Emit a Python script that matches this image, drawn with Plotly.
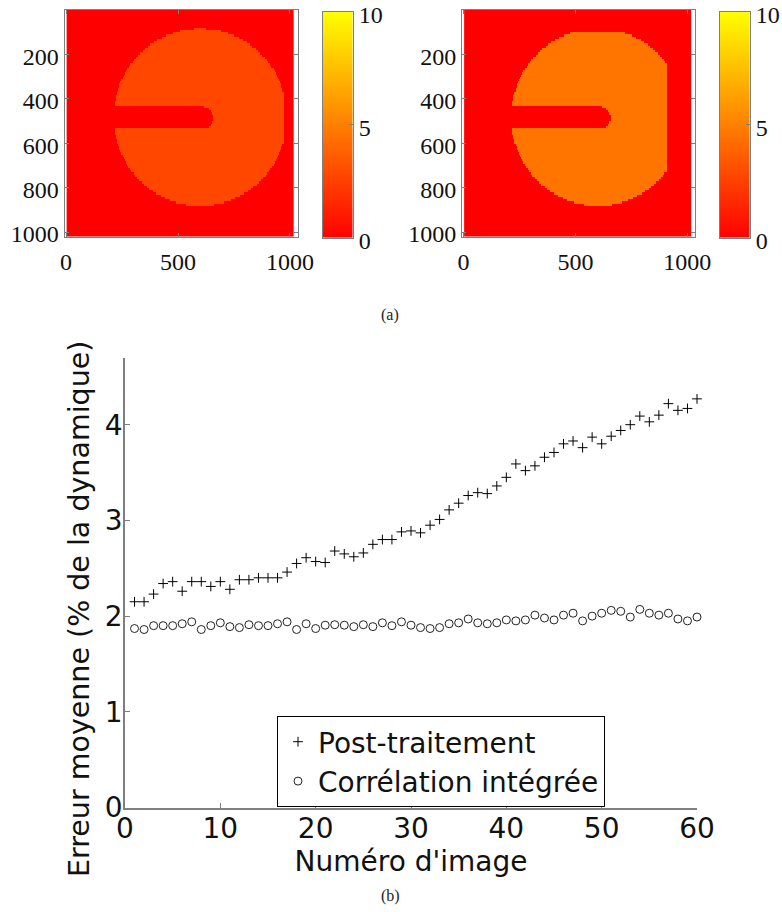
import plotly.graph_objects as go

# ---- lower chart: values ----
image_number = list(range(1, 61))
post_traitement = [2.15, 2.15, 2.23, 2.34, 2.36, 2.26, 2.36, 2.36, 2.31, 2.36,
                   2.28, 2.38, 2.38, 2.40, 2.40, 2.40, 2.46, 2.55, 2.61, 2.57,
                   2.56, 2.68, 2.65, 2.62, 2.66, 2.75, 2.80, 2.80, 2.88, 2.89,
                   2.87, 2.95, 3.01, 3.11, 3.18, 3.26, 3.29, 3.28, 3.36, 3.45,
                   3.59, 3.52, 3.57, 3.66, 3.71, 3.80, 3.83, 3.76, 3.87, 3.80,
                   3.88, 3.94, 4.00, 4.09, 4.03, 4.10, 4.22, 4.15, 4.17, 4.27]
correlation_integree = [1.87, 1.86, 1.90, 1.90, 1.90, 1.92, 1.94, 1.86, 1.90, 1.93,
                        1.89, 1.88, 1.91, 1.90, 1.90, 1.92, 1.94, 1.86, 1.92, 1.87,
                        1.905, 1.91, 1.905, 1.89, 1.91, 1.89, 1.93, 1.90, 1.94, 1.905,
                        1.88, 1.87, 1.88, 1.92, 1.93, 1.97, 1.93, 1.92, 1.93, 1.96,
                        1.95, 1.96, 2.01, 1.98, 1.96, 2.01, 2.03, 1.95, 2.00, 2.03,
                        2.06, 2.05, 1.99, 2.07, 2.03, 2.01, 2.03, 1.97, 1.95, 1.99]

# ---- upper maps: specimen outline ----
disc_center_x = 600
disc_rows = list(range(80, 880, 10))
disc_half_width = [27, 90, 124, 150, 171, 190, 206, 221, 234, 246, 258, 268, 278, 287, 296, 303,
                   311, 318, 325, 330, 336, 341, 346, 351, 356, 360, 364, 366, 369, 372, 375, 377,
                   379, 381, 383, 384, 385, 386, 387, 387, 387, 387, 386, 386, 385, 383, 382, 380,
                   378, 376, 373, 371, 368, 364, 361, 357, 353, 348, 343, 338, 332, 327, 321, 314,
                   306, 298, 291, 282, 272, 261, 251, 239, 226, 212, 196, 179, 158, 135, 105, 61]
slit_rows = [430, 440, 450, 460, 470, 480, 490, 500, 510, 520]
slit_tip = [617, 638, 648, 653, 656, 657, 656, 652, 646, 636]
left_right_limit, left_top_limit, left_level = 970, 0, 2.8
right_right_limit, right_top_limit, right_level = 909, 102, 4.6
scale_levels = [i / 4 for i in range(41)]
scale_ticks = [0, 5, 10]

map_x = list(range(5, 1020, 5))
map_y = list(range(5, 1020, 10))
W, H = 782, 912


def fx(x):
    return x / W


def fy(y):
    return 1 - y / H


def px(x0, x1):
    return [fx(x0), fx(x1)]


def py(top, bottom):
    return [fy(bottom), fy(top)]


def build_map(right_limit, top_limit, level):
    half = dict(zip(disc_rows, disc_half_width))
    tips = dict(zip(slit_rows, slit_tip))
    z = []
    for y in map_y:
        row_key = y - 5
        row = []
        for x in map_x:
            inside = (row_key in half
                      and abs(x - disc_center_x) <= half[row_key]
                      and x <= right_limit and y >= top_limit
                      and x >= tips.get(row_key, 0))
            row.append(level if inside else 0)
        z.append(row)
    return z


GRAY = "#7f7f7f"
SERIF = dict(family="Liberation Serif", size=24, color="#111111")
SANS = dict(family="DejaVu Sans", size=28, color="#111111")
AUTUMN = [[0, "#ff0000"], [1, "#ffff00"]]

fig = go.Figure()

fig.add_trace(go.Heatmap(x=map_x, y=map_y, z=build_map(left_right_limit, left_top_limit, left_level),
                         zmin=0, zmax=10, colorscale=AUTUMN, showscale=False,
                         xaxis="x", yaxis="y", hoverinfo="skip"))
fig.add_trace(go.Heatmap(x=map_x, y=map_y, z=build_map(right_right_limit, right_top_limit, right_level),
                         zmin=0, zmax=10, colorscale=AUTUMN, showscale=False,
                         xaxis="x2", yaxis="y2", hoverinfo="skip"))
for xa, ya in (("x4", "y4"), ("x5", "y5")):
    fig.add_trace(go.Heatmap(x=[0], y=scale_levels, z=[[v] for v in scale_levels],
                             zmin=0, zmax=10, colorscale=AUTUMN, showscale=False, zsmooth="best",
                             xaxis=xa, yaxis=ya, hoverinfo="skip"))
fig.add_trace(go.Scatter(x=image_number, y=post_traitement, mode="markers", name="Post-traitement",
                         xaxis="x3", yaxis="y3", cliponaxis=False,
                         marker=dict(symbol="cross-thin", size=7, color="black",
                                     line=dict(color="black", width=1))))
fig.add_trace(go.Scatter(x=image_number, y=correlation_integree, mode="markers", name="Corrélation intégrée",
                         xaxis="x3", yaxis="y3", cliponaxis=False,
                         marker=dict(symbol="circle-open", size=8, color="#222222",
                                     line=dict(color="#222222", width=1))))


def map_xaxis(domain, anchor):
    return dict(domain=domain, range=[-7, 1036], anchor=anchor, tickvals=[0, 500, 1000],
                ticks="inside", ticklen=4, tickcolor=GRAY, showline=True, linecolor=GRAY,
                mirror="ticks", showgrid=False, zeroline=False, tickfont=SERIF, automargin=False,
                ticklabeloverflow="allow", ticklabelstandoff=4)


def map_yaxis(domain, anchor):
    return dict(domain=domain, range=[1020, 0], anchor=anchor, tickvals=[200, 400, 600, 800, 1000],
                ticks="inside", ticklen=4, tickcolor=GRAY, showline=True, linecolor=GRAY,
                mirror="ticks", showgrid=False, zeroline=False, tickfont=SERIF, automargin=False,
                ticklabeloverflow="allow", ticklabelshift=-2)


def scale_xaxis(domain, anchor):
    return dict(domain=domain, anchor=anchor, range=[-0.5, 0.5], showticklabels=False, ticks="",
                showline=True, linecolor=GRAY, mirror=True, showgrid=False, zeroline=False, automargin=False)


def scale_yaxis(domain, anchor):
    return dict(domain=domain, anchor=anchor, range=[0, 10], side="right", tickvals=scale_ticks,
                ticks="inside", ticklen=4, tickcolor=GRAY, showline=True, linecolor=GRAY,
                mirror=True, showgrid=False, zeroline=False, tickfont=SERIF, automargin=False,
                ticklabeloverflow="allow", ticklabelshift=3)


fig.update_layout(
    template="none",
    width=W, height=H, autosize=False, margin=dict(l=0, r=0, t=0, b=0, pad=0),
    paper_bgcolor="white", plot_bgcolor="white", showlegend=True,
    xaxis=map_xaxis(px(64.5, 298), "y"),
    yaxis=map_yaxis(py(10, 236.5), "x"),
    xaxis2=map_xaxis(px(462, 695.3), "y2"),
    yaxis2=map_yaxis(py(10, 236.5), "x2"),
    xaxis4=scale_xaxis(px(322.5, 353), "y4"),
    yaxis4=scale_yaxis(py(11.5, 238), "x4"),
    xaxis5=scale_xaxis(px(719.5, 750), "y5"),
    yaxis5=scale_yaxis(py(11.5, 238), "x5"),
    xaxis3=dict(domain=px(125, 697), range=[0, 60], anchor="y3", tickvals=[0, 10, 20, 30, 40, 50, 60],
                ticks="inside", ticklen=5, tickcolor=GRAY, showline=True, linecolor=GRAY, linewidth=1.5,
                showgrid=False, zeroline=False, tickfont=SANS, automargin=False,
                ticklabeloverflow="allow", ticklabelstandoff=-5,
                title=dict(text="Numéro d'image", font=SANS, standoff=0)),
    yaxis3=dict(domain=py(358, 807.5), range=[0, 4.697], anchor="x3", tickvals=[0, 1, 2, 3, 4],
                ticks="inside", ticklen=5, tickcolor=GRAY, showline=True, linecolor=GRAY, linewidth=1.5,
                showgrid=False, zeroline=False, tickfont=SANS, automargin=False,
                ticklabeloverflow="allow", ticklabelstandoff=-5),
    legend=dict(x=fx(277), y=fy(716), xanchor="left", yanchor="top", bgcolor="white",
                bordercolor="black", borderwidth=1, font=SANS, itemwidth=30),
    annotations=[
        dict(text="Erreur moyenne (% de la dynamique)", x=fx(79), y=fy(609), xref="paper", yref="paper",
             showarrow=False, textangle=-90, xanchor="center", yanchor="middle",
             font=dict(family="DejaVu Sans", size=28.5, color="#111111")),
        dict(text="(a)", x=fx(390), y=fy(315), xref="paper", yref="paper", showarrow=False,
             xanchor="center", yanchor="middle",
             font=dict(family="Liberation Serif", size=16, color="#222222")),
        dict(text="(b)", x=fx(390), y=fy(896), xref="paper", yref="paper", showarrow=False,
             xanchor="center", yanchor="middle",
             font=dict(family="Liberation Serif", size=16, color="#222222")),
    ],
)

# remove the browser's default 8 px page margin so the figure fills the window; no toolbar
fig.write_html("out.html", config={"displayModeBar": False},
               post_script="document.body.style.margin='0';document.body.style.overflow='hidden';")
